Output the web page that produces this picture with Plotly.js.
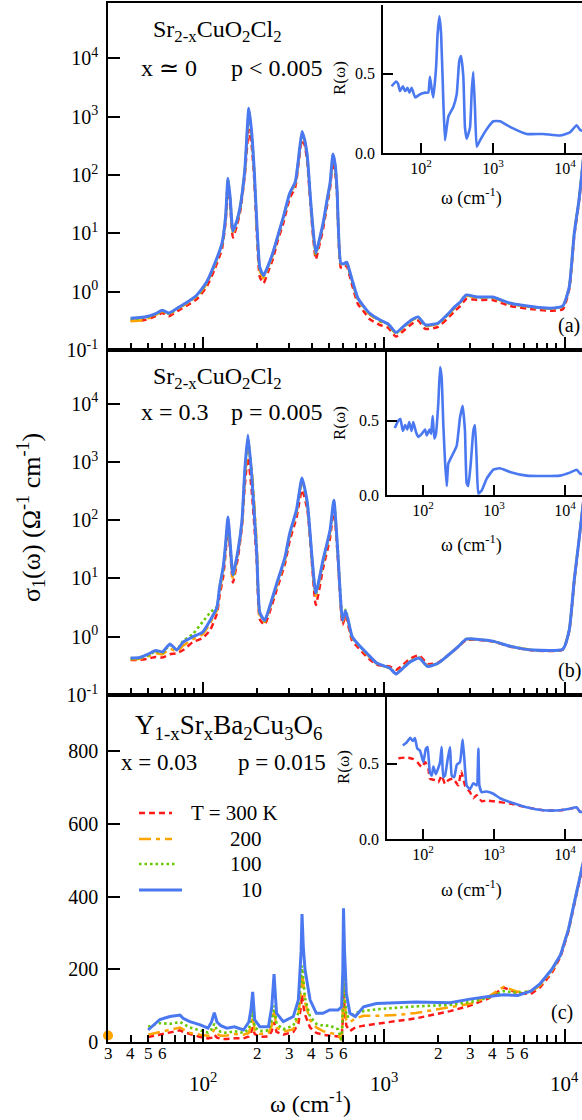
<!DOCTYPE html>
<html><head><meta charset="utf-8">
<script src="https://cdn.plot.ly/plotly-3.0.1.min.js"></script>
<style>html,body{margin:0;padding:0;background:#fff}#chart{width:582px;height:1120px}</style>
</head><body><div id="chart"></div>
<script>
// ---------- Panel (a): Sr2-xCuO2Cl2, x ~ 0 ----------
const wA = [40,45,50,55,60,65,73,82,93,105, 117,128,134,138,142,147,155,161,171,180, 187,193,200,207,217,230,244,260,279,303, 325,338,354,366,379,392,403,422,440,463, 485,506,525,540,553,580,600,625,645,670, 720,780,835,950,1060,1170,1280,1430,1550,1700, 2000,2240,2500,2640,2860,3280,4000,4970,6700,8300, 9770,10600,11300,12000,13000];
const sA_300 = [0.32,0.32,0.34,0.38,0.43,0.38,0.47,0.58,0.75,1.2, 2.5,5.5,16,65,30,8.5,14,23,100,600, 300,80,8,1.8,1.4,2.2,3.6,7.5,15,40, 62,150,400,330,160,40,13,3.6,6,12, 28,60,170,110,45,2.6,2.5,2.8,2.0,1.3, 0.62,0.45,0.34,0.27,0.24,0.17,0.21,0.28,0.32,0.23, 0.25,0.34,0.48,0.56,0.75,0.72,0.72,0.57,0.5,0.47, 0.5,1.1,9,35,380];
const sA_200 = [0.31,0.32,0.35,0.40,0.46,0.41,0.51,0.63,0.83,1.35, 2.9,6.3,18,80,36,10,16,26,115,1000, 420,100,10,2.3,1.7,2.6,4.3,8.5,18,46, 72,170,490,380,190,46,16,4.3,7,14, 33,68,205,135,52,3.0,2.9,3.1,2.3,1.5, 0.73,0.52,0.41,0.31,0.27,0.19,0.24,0.32,0.36,0.26, 0.28,0.38,0.55,0.64,0.85,0.79,0.79,0.62,0.54,0.51, 0.56,1.2,10,37,400];
const sA_100 = [0.34,0.35,0.37,0.41,0.47,0.42,0.52,0.65,0.86,1.4, 3.0,6.6,19,85,38,10.5,16.5,27,120,1250, 470,105,11,2.5,1.85,2.7,4.5,8.8,18.5,48, 75,178,530,390,200,48,16.5,4.5,7.3,14.5, 34,71,220,145,54,3.05,2.95,3.15,2.35,1.55, 0.76,0.54,0.42,0.32,0.275,0.195,0.245,0.325,0.365,0.265, 0.285,0.39,0.56,0.65,0.87,0.8,0.8,0.63,0.545,0.515, 0.565,1.2,10,37,400];
const sA_10 = [0.35,0.36,0.38,0.42,0.48,0.43,0.53,0.66,0.88,1.45, 3.1,6.8,20,88,40,11,17,28,123,1400, 500,110,12,2.6,1.9,2.8,4.6,9,19,49, 76,182,560,400,205,50,17,4.6,7.5,15, 35,73,230,150,55,3.1,3.0,3.2,2.4,1.58, 0.78,0.55,0.43,0.33,0.28,0.20,0.25,0.33,0.37,0.27, 0.29,0.40,0.57,0.66,0.88,0.81,0.81,0.64,0.55,0.52, 0.57,1.2,10,37,400];

// ---------- Panel (b): Sr2-xCuO2Cl2, x = 0.3 ----------
const wB = [40,45,50,55,60,66,72,78,88,100, 110,120,124,130,134,138,142,147,157,165, 171,178,187,199,207,220,234,257,285,303, 330,354,379,403,422,463,506,531,557,593, 616,670,713,808,918,1080,1170,1280,1400,1570, 1750,2000,2270,2600,2860,4000,4970,6700,9770,10600, 11300,12000,13000];
const sB_300 = [0.40,0.40,0.42,0.45,0.44,0.50,0.52,0.59,0.80,0.95, 1.3,2.5,5,11,28,80,30,8.5,24,80, 400,1200,300,20,2.0,1.6,2.6,6.5,18,45, 110,330,150,16,3.5,15,50,160,25,1.6, 2.3,0.85,0.68,0.45,0.33,0.31,0.27,0.33,0.42,0.48, 0.34,0.36,0.48,0.68,0.88,0.83,0.68,0.58,0.6,1.25, 9,44,400];
const sB_200 = [0.41,0.42,0.46,0.52,0.5,0.62,0.56,0.7,0.9,1.1, 1.7,2.9,6,14,35,95,35,10,28,90, 550,1800,700,40,2.3,1.8,3.0,7.5,21,55, 135,450,180,19,5,19,62,200,29,1.8, 2.6,0.95,0.75,0.5,0.34,0.29,0.24,0.3,0.38,0.44, 0.32,0.35,0.48,0.69,0.9,0.84,0.69,0.59,0.61,1.3, 9.4,45,400];
const sB_100 = [0.42,0.43,0.48,0.56,0.53,0.72,0.6,0.85,1.1,1.8, 2.6,3.3,6.8,15,38,105,38,11,30,95, 650,2400,600,30,2.5,1.85,3.1,8,22,58, 145,500,190,20,5.4,20,66,210,33,2.0, 2.9,0.98,0.77,0.51,0.35,0.29,0.23,0.29,0.37,0.43, 0.31,0.35,0.48,0.69,0.91,0.84,0.69,0.59,0.61,1.3, 9.4,45,400];
const sB_10 = [0.43,0.44,0.50,0.58,0.55,0.75,0.59,0.81,0.99,1.2, 1.9,3.2,7,16,40,113,40,11.5,31,100, 725,2900,550,27,2.6,1.9,3.2,8.3,23,60, 150,530,196,21,5.6,21,68,220,31,1.9, 2.8,1.0,0.78,0.52,0.35,0.29,0.23,0.29,0.37,0.43, 0.31,0.35,0.48,0.69,0.91,0.84,0.69,0.59,0.61,1.3, 9.4,45,400];

// ---------- Panel (c): Y1-xSrxBa2Cu3O6, x = 0.03 ----------
const wC = [50,58,66,75,78,85,97,107,112,116, 120,126,136,150,168,180,185,189,194,207, 231,241,248,256,279,317,338,350,354,360, 368,392,425,462,503,560,586,595,600,608, 622,651,697,775,911,1230,1510,2330,3000,3800, 4600,5500,6500,7300,8500,9500,10500,11500,12500,13000];
const sC_300 = [14,20,25,32,28,22,14,10,12,20, 12,9,8,10,10,15,25,40,22,14, 15,30,55,28,20,28,50,100,130,100, 75,40,25,20,18,15,12,60,160,90, 45,30,40,45,50,58,65,85,100,120, 150,135,132,150,190,235,305,395,475,515];
const sC_200 = [20,28,33,40,35,25,20,17,20,35, 22,17,18,22,20,25,45,70,30,22, 25,45,90,40,28,35,70,150,200,150, 110,60,40,30,25,20,5,80,220,120, 60,55,65,72,72,75,80,95,105,125, 152,138,138,155,195,240,310,400,480,520];
const sC_100 = [42,52,50,55,50,40,32,26,35,50, 33,28,25,30,25,35,60,90,40,30, 32,60,100,50,35,45,80,180,210,170, 120,70,50,45,45,35,2,90,250,140, 70,70,80,85,90,95,98,102,110,122, 140,135,140,158,198,240,310,400,480,520];
const sC_10 = [33,62,70,74,65,56,47,38,55,81, 55,45,38,42,33,55,90,138,61,42, 42,97,187,79,56,70,116,250,352,260, 198,116,79,79,88,88,97,200,368,250, 134,79,70,97,106,108,110,108,118,125, 130,128,140,160,200,240,310,400,480,520];
const dotW = [30];
const dotS = [18];

// ---------- Insets: reflectivity R(w) ----------
const iwA = [39,45,48,51,56,60,65,69,74,83,97,114,126,133,141,148,162,170,180,190,204,215,227,240,281,313,340,360,387,408,431,479,506,532,563,594,660,817,1010,1250,1720,2930,4990,8500,11700,14500,16200,17500];
const iRA = [.42,.45,.435,.39,.42,.39,.41,.38,.41,.35,.37,.38,.38,.48,.40,.35,.54,.75,.86,.75,.33,.08,.16,.23,.29,.37,.58,.61,.48,.16,.09,.16,.39,.51,.27,.04,.08,.15,.20,.20,.165,.12,.12,.11,.13,.175,.145,.14];
const iwB = [40,45,48,52,56,60,64,69,73,80,86,96,107,113,123,130,137,144,152,164,174,183,193,204,216,227,254,298,332,362,390,412,434,474,511,540,570,602,670,789,978,1214,1670,2870,4950,8520,11700,14600,16200,17500];
const iRB = [.45,.50,.51,.43,.47,.44,.49,.43,.49,.42,.39,.41,.44,.40,.44,.41,.53,.38,.41,.61,.86,.79,.48,.23,.06,.21,.26,.33,.52,.60,.43,.08,.06,.23,.43,.47,.23,.01,.03,.11,.17,.18,.155,.13,.127,.13,.15,.17,.145,.14];
const iwC = [52,59,66,72,77,83,91,101,110,116,125,133,140,152,164,174,183,193,204,223,240,254,276,298,332,350,362,382,412,459,511,570,602,622,670,789,978,1214,1670,2870,4950,8520,11700,14600,16200,17500];
const iRC_10 = [.62,.64,.67,.65,.67,.60,.585,.51,.60,.61,.44,.42,.48,.43,.47,.51,.61,.41,.42,.53,.61,.42,.41,.49,.51,.60,.66,.53,.355,.33,.37,.355,.60,.355,.31,.315,.30,.27,.245,.21,.19,.19,.20,.21,.18,.18];
const iwC3 = [45,59,73,83,96,107,119,125,148,164,183,204,227,267,314,345,390,459,511,570,670,789,978,1670,2870,4950,8520,11700,14600,16200,17500];
const iRC_300 = [.535,.54,.53,.51,.475,.51,.465,.40,.39,.375,.42,.365,.39,.40,.355,.45,.355,.31,.27,.29,.25,.255,.25,.235,.21,.19,.19,.20,.21,.18,.18];

// ---------- Tick values / labels ----------
const xMinorVals = [40,50,60,70,80,90,200,300,400,500,600,700,800,900,2000,3000,4000,5000,6000,7000,8000,9000];
const xDigitVals = [30,40,50,60,200,300,400,500,600,2000,3000,4000,5000,6000];
const xDigitText = ['3','4','5','6','2','3','4','5','6','2','3','4','5','6'];
const xDecades = [100,1000,10000];
const xDecadeText = ['10<sup>2</sup>','10<sup>3</sup>','10<sup>4</sup>'];
const yLogVals = [0.1,1,10,100,1000,10000];
const yLogText = ['10<sup>-1</sup>','10<sup>0</sup>','10<sup>1</sup>','10<sup>2</sup>','10<sup>3</sup>','10<sup>4</sup>'];
const yLinVals = [0,200,400,600,800];
const yLinText = ['0','200','400','600','800'];
const rVals = [0,0.5];
const rText = ['0.0','0.5'];
const legendLabels = ['T = 300 K','200','100','10'];

// ---------- styling ----------
const FONT = 'Liberation Serif, Times New Roman, serif';
const COL = {r:'#ff1a1a', o:'#ffa500', g:'#66c800', b:'#4a78f0'};
const STY = {
  r:{color:COL.r, width:2.5, dash:'6px,4px'},
  o:{color:COL.o, width:2.5, dash:'12px,5px,4px,5px'},
  g:{color:COL.g, width:2.6, dash:'2.5px,3px'},
  b:{color:COL.b, width:3}
};
const PX = x => (x-108)/474;
const PY = y => (1042-y)/1039;
const F = (s) => ({family:FONT, size:s, color:'#000'});

function tr(x, y, xa, ya, s, w, smooth){
  const line = Object.assign({}, STY[s]);
  if (w) line.width = w;
  if (smooth) { line.shape = 'spline'; line.smoothing = smooth; }
  return {x, y, xaxis:xa, yaxis:ya, type:'scatter', mode:'lines', line, hoverinfo:'skip', showlegend:false};
}

const data = [
  tr(wA,sA_300,'x','y','r',0,0.5), tr(wA,sA_200,'x','y','o',0,0.5), tr(wA,sA_100,'x','y','g',0,0.5), tr(wA,sA_10,'x','y','b',0,0.5),
  tr(wB,sB_300,'x2','y2','r',0,0.5), tr(wB,sB_200,'x2','y2','o',0,0.5), tr(wB,sB_100,'x2','y2','g',0,0.5), tr(wB,sB_10,'x2','y2','b',0,0.5),
  tr(wC,sC_300,'x3','y3','r'), tr(wC,sC_200,'x3','y3','o'), tr(wC,sC_100,'x3','y3','g'), tr(wC,sC_10,'x3','y3','b'),
  {x:dotW, y:dotS, xaxis:'x3', yaxis:'y3', type:'scatter', mode:'markers', cliponaxis:false,
   marker:{color:COL.o, size:10}, showlegend:false, hoverinfo:'skip'},
  tr(iwA,iRA,'x4','y4','b',2.6,0.4),
  tr(iwB,iRB,'x5','y5','b',2.6,0.4),
  tr(iwC3,iRC_300,'x6','y6','r',2.4,0.4), tr(iwC,iRC_10,'x6','y6','b',2.6,0.4)
];

function mainX(anchor){
  return {type:'log', range:[Math.log10(30), 4.0959], domain:[0,1], anchor,
    showline:true, linecolor:'#000', linewidth:1.6, mirror:true,
    ticks:'inside', tickmode:'array', tickvals:xDecades, showticklabels:false,
    ticklen:13, tickwidth:1.5, tickcolor:'#000',
    minor:{tickmode:'array', tickvals:xMinorVals, ticks:'inside', ticklen:7, tickwidth:1.5, tickcolor:'#000', showgrid:false},
    showgrid:false, zeroline:false};
}
function mainY(anchor, dom, rng, log){
  return {type: log?'log':'linear', domain:dom, range:rng, anchor,
    showline:true, linecolor:'#000', linewidth:1.6,
    ticks:'inside', ticklen:12, tickwidth:1.5, tickcolor:'#000', tickmode:'array',
    tickvals: log? yLogVals : yLinVals, ticktext: log? yLogText : yLinText,
    showgrid:false, zeroline:false, ticklabelstandoff:4, tickfont:F(20)};
}
function insetX(anchor, dom, rng){
  return {type:'log', domain:dom, range:rng, anchor, showline:true, linecolor:'#000', linewidth:1.6,
    ticks:'inside', ticklen:10, tickwidth:1.5, tickcolor:'#000', tickmode:'array',
    tickvals:xDecades, ticktext:xDecadeText, showgrid:false, zeroline:false, tickfont:F(16)};
}
function insetY(anchor, dom, rng){
  return {domain:dom, range:rng, anchor, showline:true, linecolor:'#000', linewidth:1.6,
    ticks:'inside', ticklen:10, tickwidth:1.5, tickcolor:'#000', tickmode:'array',
    tickvals:rVals, ticktext:rText, showgrid:false, zeroline:false, ticklabelstandoff:3, tickfont:F(16)};
}

function ann(text, x, y, opt){
  return Object.assign({text, x, y, xref:'paper', yref:'paper', showarrow:false,
    xanchor:'left', yanchor:'middle', font:F(24)}, opt||{});
}

const annotations = [
  ann('Sr<sub>2-x</sub>CuO<sub>2</sub>Cl<sub>2</sub>', PX(151), PY(31)),
  ann('x \u2243 0', PX(139), PY(68), {font:F(24)}),
  ann('p < 0.005', PX(229), PY(68), {font:F(24)}),
  ann('Sr<sub>2-x</sub>CuO<sub>2</sub>Cl<sub>2</sub>', PX(151), PY(378)),
  ann('x = 0.3', PX(139), PY(412), {font:F(24)}),
  ann('p = 0.005', PX(229), PY(412), {font:F(24)}),
  ann('Y<sub>1-x</sub>Sr<sub>x</sub>Ba<sub>2</sub>Cu<sub>3</sub>O<sub>6</sub>', PX(133), PY(727), {font:F(27)}),
  ann('x = 0.03', PX(119), PY(762), {font:F(23)}),
  ann('p = 0.015', PX(236), PY(762), {font:F(23)}),
  ann('(a)', PX(569), PY(326), {xanchor:'center', font:F(20)}),
  ann('(b)', PX(569), PY(670), {xanchor:'center', font:F(20)}),
  ann('(c)', PX(562), PY(1012), {xanchor:'center', font:F(20)}),
  ann('\u03c3<sub>1</sub>(\u03c9) (\u03a9<sup>-1</sup> cm<sup>-1</sup>)', PX(31), PY(518), {xanchor:'center', textangle:-90, font:F(26)}),
  ann('\u03c9 (cm<sup>-1</sup>)', PX(310), PY(1102), {xanchor:'center', font:F(24)}),
  // inset labels
  ann('R(\u03c9)', PX(340), PY(78), {xanchor:'center', textangle:-90, font:F(17)}),
  ann('R(\u03c9)', PX(340), PY(423), {xanchor:'center', textangle:-90, font:F(17)}),
  ann('R(\u03c9)', PX(343), PY(767), {xanchor:'center', textangle:-90, font:F(17)}),
  ann('\u03c9 (cm<sup>-1</sup>)', PX(471), PY(197), {xanchor:'center', font:F(18)}),
  ann('\u03c9 (cm<sup>-1</sup>)', PX(471), PY(544), {xanchor:'center', font:F(18)}),
  ann('\u03c9 (cm<sup>-1</sup>)', PX(471), PY(889), {xanchor:'center', font:F(18)}),
  // legend text
  ann(legendLabels[0], PX(189), PY(813), {font:F(21)}),
  ann(legendLabels[1], PX(264), PY(839), {xanchor:'right', font:F(21)}),
  ann(legendLabels[2], PX(264), PY(864), {xanchor:'right', font:F(21)}),
  ann(legendLabels[3], PX(264), PY(890), {xanchor:'right', font:F(21)})
];
// main x-axis labels (digits on minor positions, decades on a lower row)
xDigitVals.forEach((v,i)=>annotations.push({text:xDigitText[i], x:Math.log10(v), xref:'x3', y:PY(1053), yref:'paper',
  showarrow:false, xanchor:'center', yanchor:'middle', font:F(17)}));
xDecades.forEach((v,i)=>annotations.push({text:xDecadeText[i], x:Math.log10(v), xref:'x3', y:PY(1082), yref:'paper',
  showarrow:false, xanchor:'center', yanchor:'middle', font:F(21)}));

const legendLine = (y, x1, s) => ({type:'line', xref:'paper', yref:'paper', x0:PX(139), x1:PX(x1), y0:PY(y), y1:PY(y), line:STY[s]});
const shapes = [legendLine(813,172,'r'), legendLine(839,172,'o'), legendLine(864,176,'g'), legendLine(890,182,'b')];

const layout = {
  width:582, height:1120, margin:{l:108, r:0, t:3, b:78},
  paper_bgcolor:'#ffffff', plot_bgcolor:'white', showlegend:false,
  font:{family:FONT, color:'#000'},
  xaxis: mainX('y'),
  yaxis: mainY('x', [0.666,1], [-1,4.95], true),
  xaxis2: mainX('y2'),
  yaxis2: mainY('x2', [0.334,0.666], [-1,4.92], true),
  xaxis3: mainX('y3'),
  yaxis3: mainY('x3', [0,0.334], [0,955], false),
  xaxis4: insetX('y4', [0.5802,1], [1.472,4.236]),
  yaxis4: insetY('x4', [0.8556,0.998], [0,0.931]),
  xaxis5: insetX('y5', [0.5886,1], [1.493,4.239]),
  yaxis5: insetY('x5', [0.5265,0.664], [0,0.96]),
  xaxis6: insetX('y6', [0.5886,1], [1.493,4.239]),
  yaxis6: insetY('x6', [0.1954,0.332], [0,0.941]),
  annotations, shapes
};
Plotly.newPlot('chart', data, layout, {displayModeBar:false});
</script></body></html>
